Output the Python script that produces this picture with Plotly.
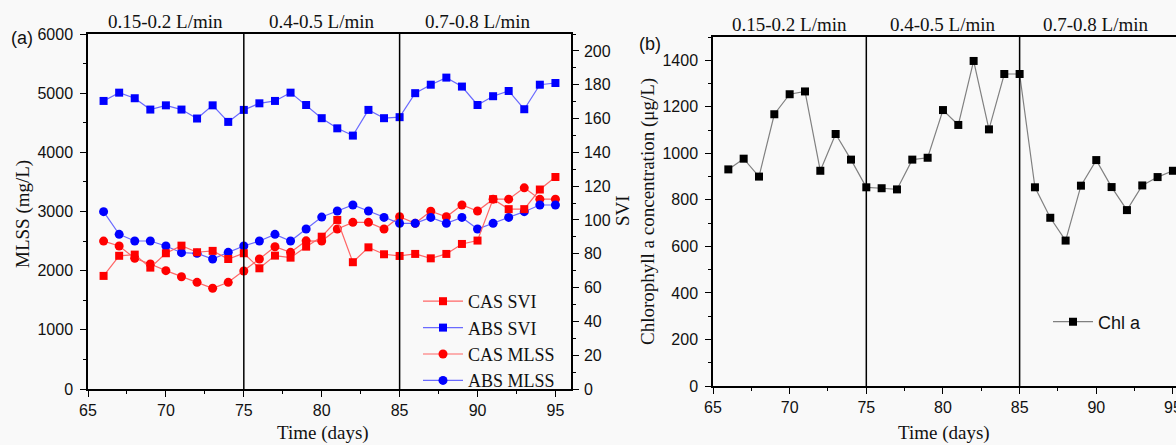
import plotly.graph_objects as go

# ---------------- data ----------------
days = [66, 67, 68, 69, 70, 71, 72, 73, 74, 75, 76, 77, 78, 79, 80,
        81, 82, 83, 84, 85, 86, 87, 88, 89, 90, 91, 92, 93, 94, 95]

cas_svi = [66.9, 78.8, 79.5, 71.8, 80.3, 84.8, 80.9, 81.7, 76.9, 80.3,
           71.4, 78.9, 77.7, 84.2, 90.1, 100.0, 75.0, 83.8, 79.7, 78.7,
           79.9, 77.3, 79.9, 85.8, 87.8, 112.3, 106.4, 106.4, 118.0, 125.4]

abs_svi = [170.4, 175.3, 172.0, 165.3, 167.8, 165.3, 160.0, 167.8, 158.0, 165.1,
           169.0, 170.4, 175.3, 168.0, 160.2, 154.2, 149.9, 165.1, 160.2, 160.8,
           175.0, 180.0, 184.2, 178.9, 168.0, 173.2, 176.3, 165.5, 180.0, 181.0]

cas_mlss = [2500, 2417, 2209, 2113, 2000, 1898, 1803, 1702, 1803, 1994,
            2197, 2405, 2310, 2504, 2500, 2704, 2817, 2817, 2704, 2912,
            2800, 3005, 2912, 3110, 3008, 3208, 3208, 3400, 3208, 3208]

abs_mlss = [2997, 2614, 2501, 2501, 2417, 2304, 2293, 2197, 2310, 2417,
            2501, 2614, 2501, 2704, 2906, 3008, 3110, 3008, 2900, 2800,
            2800, 2900, 2800, 2900, 2704, 2800, 2900, 2997, 3110, 3110]

chl_a = [931, 977, 900, 1168, 1254, 1266, 925, 1083, 973, 854,
         850, 845, 973, 981, 1186, 1122, 1397, 1103, 1341, 1341,
         854, 723, 625, 861, 971, 855, 756, 862, 898, 925]

period_bounds = [75, 85]
period_centers = [70, 80, 90]
period_labels = ["0.15-0.2 L/min", "0.4-0.5 L/min", "0.7-0.8 L/min"]

# ---------------- layout helpers ----------------
W, H = 1176, 445
def px(x):
    return x / W
def py(y):
    return 1 - y / H

SERIF = "Liberation Serif, Times New Roman, serif"
SANS = "Liberation Sans, Arial, sans-serif"
RED, RED_L = "#ff0000", "#ff6666"
BLUE, BLUE_L = "#0000ff", "#6a6aff"

fig = go.Figure()

# Left panel traces
fig.add_trace(go.Scatter(x=days, y=cas_svi, name="CAS SVI", mode="lines+markers",
                         xaxis="x", yaxis="y2", legend="legend",
                         line=dict(color=RED_L, width=1.2),
                         marker=dict(symbol="square", size=8, color=RED)))
fig.add_trace(go.Scatter(x=days, y=abs_svi, name="ABS SVI", mode="lines+markers",
                         xaxis="x", yaxis="y2", legend="legend",
                         line=dict(color=BLUE_L, width=1.2),
                         marker=dict(symbol="square", size=8, color=BLUE)))
fig.add_trace(go.Scatter(x=days, y=cas_mlss, name="CAS MLSS", mode="lines+markers",
                         xaxis="x", yaxis="y", legend="legend",
                         line=dict(color=RED_L, width=1.2),
                         marker=dict(symbol="circle", size=9, color=RED)))
fig.add_trace(go.Scatter(x=days, y=abs_mlss, name="ABS MLSS", mode="lines+markers",
                         xaxis="x", yaxis="y", legend="legend",
                         line=dict(color=BLUE_L, width=1.2),
                         marker=dict(symbol="circle", size=9, color=BLUE)))

# Right panel trace
fig.add_trace(go.Scatter(x=days, y=chl_a, name="Chl a", mode="lines+markers",
                         xaxis="x2", yaxis="y3", legend="legend2",
                         line=dict(color="#808080", width=1.2),
                         marker=dict(symbol="square", size=8, color="#000000")))

tickfont = dict(family=SANS, size=16, color="#111")
common_ax = dict(showline=True, linecolor="#000", linewidth=1.5, ticks="outside",
                 ticklen=6, tickwidth=1.2, tickcolor="#000", showgrid=False,
                 zeroline=False, tickfont=tickfont, automargin=False,
                 ticklabeloverflow="allow")
minor_x = dict(dtick=2.5, ticks="outside", ticklen=3.5, tickcolor="#000", tickwidth=1.2)

def minor_y(step):
    return dict(dtick=step, ticks="outside", ticklen=3.5, tickcolor="#000", tickwidth=1.2)

left_dom_x = [px(88), px(571)]
left_dom_y = [py(389), py(34)]
right_dom_x = [px(713), 1.0]
right_dom_y = [py(386), py(37)]

fig.update_layout(
    width=W, height=H,
    margin=dict(l=0, r=0, t=0, b=0),
    paper_bgcolor="#f9f9f9", plot_bgcolor="#f9f9f9",
    xaxis=dict(domain=left_dom_x, anchor="y", range=[65, 96], dtick=5, tick0=65,
               mirror=True, minor=minor_x, **common_ax),
    yaxis=dict(domain=left_dom_y, anchor="x", range=[0, 6000], dtick=1000,
               minor=minor_y(500), ticklabelstandoff=4, **common_ax),
    yaxis2=dict(overlaying="y", side="right", anchor="x", range=[0, 210], dtick=20,
                minor=minor_y(10), ticklabelstandoff=2, **common_ax),
    xaxis2=dict(domain=right_dom_x, anchor="y3", range=[65, 95.2], dtick=5, tick0=65,
                mirror=True, minor=minor_x, **common_ax),
    yaxis3=dict(domain=right_dom_y, anchor="x2", range=[0, 1500], dtick=200,
                minor=minor_y(100), ticklabelstandoff=4, **common_ax),
    legend=dict(x=px(418), y=py(283), xanchor="left", yanchor="top",
                bgcolor="rgba(0,0,0,0)", font=dict(family=SERIF, size=18, color="#111"),
                tracegroupgap=0, itemwidth=40, traceorder="normal"),
    legend2=dict(x=px(1048), y=py(322), xanchor="left", yanchor="middle",
                 bgcolor="rgba(0,0,0,0)", font=dict(family=SANS, size=18, color="#111"),
                 itemwidth=40),
    showlegend=True,
)

# Vertical period boundaries
shapes = []
for xr, yr in (("x", "y domain"), ("x2", "y3 domain")):
    for b in period_bounds:
        shapes.append(dict(type="line", xref=xr, yref=yr, x0=b, x1=b, y0=0, y1=1,
                           line=dict(color="#000", width=1.5)))
fig.update_layout(shapes=shapes)

ann = []
# Period labels
for xr, yy in (("x", py(22)), ("x2", py(24))):
    for c, lab in zip(period_centers, period_labels):
        ann.append(dict(x=c, y=yy, xref=xr, yref="paper", text=lab, showarrow=False,
                        xanchor="center", yanchor="middle",
                        font=dict(family=SERIF, size=19, color="#111")))
# Panel letters
ann.append(dict(x=px(9), y=py(38), xref="paper", yref="paper", text="(a)",
                showarrow=False, xanchor="left", yanchor="middle",
                font=dict(family=SANS, size=18, color="#111")))
ann.append(dict(x=px(637), y=py(44), xref="paper", yref="paper", text="(b)",
                showarrow=False, xanchor="left", yanchor="middle",
                font=dict(family=SANS, size=18, color="#111")))
# Axis titles
ann.append(dict(x=px(23), y=py(214), xref="paper", yref="paper", text="MLSS (mg/L)",
                showarrow=False, textangle=-90, xanchor="center", yanchor="middle",
                font=dict(family=SERIF, size=19, color="#111")))
ann.append(dict(x=px(622), y=py(211), xref="paper", yref="paper", text="SVI",
                showarrow=False, textangle=-90, xanchor="center", yanchor="middle",
                font=dict(family=SERIF, size=19, color="#111")))
ann.append(dict(x=px(648), y=py(211), xref="paper", yref="paper",
                text="Chlorophyll a concentration (μg/L)",
                showarrow=False, textangle=-90, xanchor="center", yanchor="middle",
                font=dict(family=SERIF, size=19, color="#111")))
ann.append(dict(x=px(323), y=py(433), xref="paper", yref="paper", text="Time (days)",
                showarrow=False, xanchor="center", yanchor="middle",
                font=dict(family=SERIF, size=19, color="#111")))
ann.append(dict(x=px(944), y=py(433), xref="paper", yref="paper", text="Time (days)",
                showarrow=False, xanchor="center", yanchor="middle",
                font=dict(family=SERIF, size=19, color="#111")))
fig.update_layout(annotations=ann)

# remove the default page margin so the figure fills the window exactly
fig.write_html("out.html",
               config={"displayModeBar": False},
               post_script="document.body.style.margin='0';"
                           "document.body.style.overflow='hidden';")
